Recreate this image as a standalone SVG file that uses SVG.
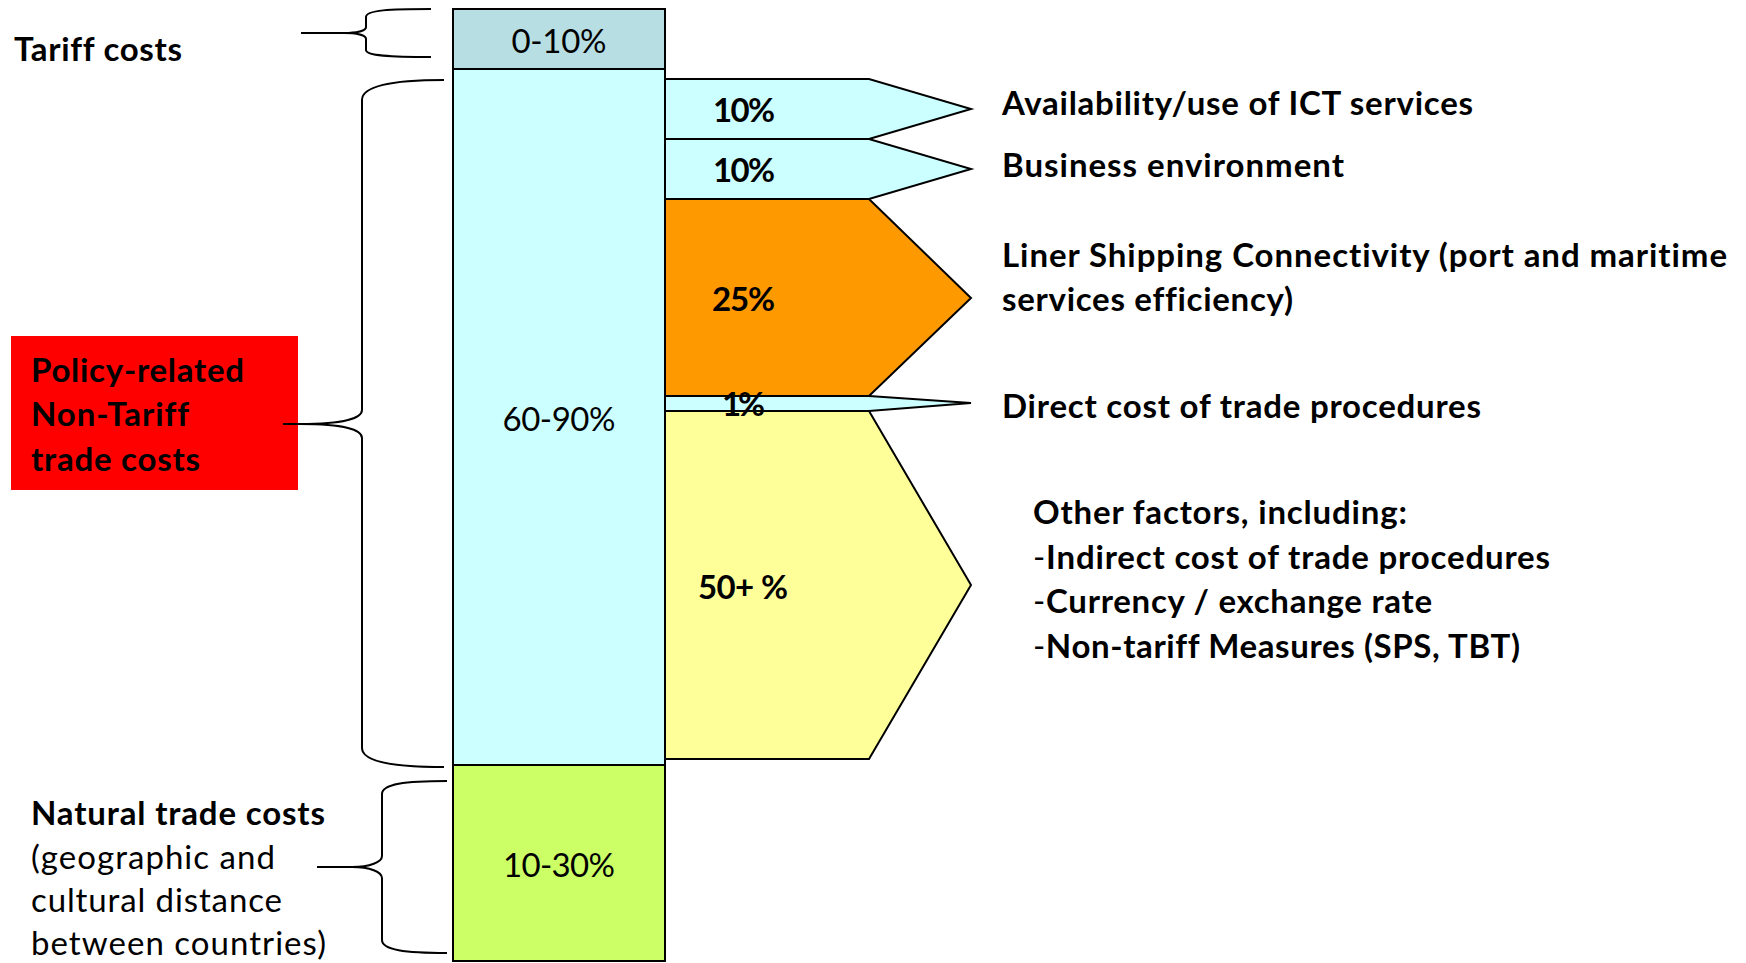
<svg xmlns="http://www.w3.org/2000/svg" width="1746" height="963" viewBox="0 0 1746 963">
<style>
text{font-family:Lato,"Open Sans","Liberation Sans",sans-serif;font-size:33px;fill:#000;font-variant-ligatures:none}
.b{font-weight:bold}
.n{font-weight:normal}
.box{stroke:#000;stroke-width:2}
.arr{stroke:#000;stroke-width:2;stroke-linejoin:miter}
.br{fill:none;stroke:#000;stroke-width:2}
</style>
<rect width="1746" height="963" fill="#fff"/>
<g id="label-policy"><rect x="11" y="336" width="287" height="154" fill="#FF0000"/>
<text class="b" x="31" y="382" textLength="213">Policy-related</text>
<text class="b" x="31" y="426" textLength="158">Non-Tariff</text>
<text class="b" x="31" y="471" textLength="169">trade costs</text></g>
<g id="connectors">
<path class="br" d="M301,33 L344,33 M431,9 C390,9 366,10 366,17 L366,27 C366,31 356,33 344,33 C356,33 366,35 366,39 L366,50 C366,56 390,57 431,57"/>
<path class="br" d="M283,424 L300,424 M444,80 C395,80 362,85 362,100 L362,410 C362,418 345,424 300,424 C345,424 362,430 362,438 L362,748 C362,762 395,767 444,767"/>
<path class="br" d="M317,867 L352,867 M447,781 C405,781 382,784 382,794 L382,856 C382,862 370,867 352,867 C370,867 382,872 382,878 L382,940 C382,950 405,953 447,953"/>
</g>
<g id="tariff-box"><rect class="box" x="453" y="9" width="212" height="60" fill="#B7DEE3"/><text x="559" y="53" text-anchor="middle" textLength="95">0-10%</text></g>
<g id="main-box"><rect class="box" x="453" y="69" width="212" height="696" fill="#CCFFFF"/><text x="559" y="431" text-anchor="middle" textLength="113">60-90%</text></g>
<g id="natural-box"><rect class="box" x="453" y="765" width="212" height="196" fill="#CCFF66"/><text x="559" y="877" text-anchor="middle" textLength="112">10-30%</text></g>
<g id="arrow-ict"><polygon class="arr" points="665,79 869,79 971,109 869,139 665,139" fill="#CCFFFF"/><text class="b" x="713" y="122" textLength="62">10%</text></g>
<g id="arrow-business"><polygon class="arr" points="665,139 869,139 971,169 869,199 665,199" fill="#CCFFFF"/><text class="b" x="713" y="182" textLength="62">10%</text></g>
<g id="arrow-shipping"><polygon class="arr" points="665,199 869,199 971,298 869,396 665,396" fill="#FF9900"/><text class="b" x="712" y="311" textLength="63">25%</text></g>
<g id="arrow-other"><polygon class="arr" points="665,411 869,411 971,585 869,759 665,759" fill="#FFFF99"/><text class="b" x="698" y="599" textLength="90">50+ %</text></g>
<g id="arrow-direct"><polygon class="arr" points="665,396 869,396 971,403 869,411 665,411" fill="#CCFFFF"/><text class="b" x="722" y="416" textLength="43">1%</text></g>
<g id="label-tariff"><text class="b" x="14" y="61" textLength="168">Tariff costs</text></g>
<g id="label-natural">
<text class="b" x="31" y="825" textLength="294">Natural trade costs</text>
<text x="31" y="869" textLength="244">(geographic and</text>
<text x="31" y="912" textLength="251">cultural distance</text>
<text x="31" y="955" textLength="295">between countries)</text></g>
<g id="label-ict"><text class="b" x="1002" y="115" textLength="471">Availability/use of ICT services</text></g>
<g id="label-business"><text class="b" x="1002" y="177" textLength="342">Business environment</text></g>
<g id="label-shipping"><text class="b" x="1002" y="267" textLength="725">Liner Shipping Connectivity (port and maritime</text>
<text class="b" x="1002" y="311" textLength="291">services efficiency)</text></g>
<g id="label-direct"><text class="b" x="1002" y="418" textLength="479">Direct cost of trade procedures</text></g>
<g id="label-other">
<text class="b" x="1033" y="524" textLength="374">Other factors, including:</text>
<text class="b" x="1033" y="569" textLength="517"><tspan class="n">-</tspan>Indirect cost of trade procedures</text>
<text class="b" x="1033" y="613" textLength="399"><tspan class="n">-</tspan>Currency / exchange rate</text>
<text class="b" x="1033" y="658" textLength="487"><tspan class="n">-</tspan>Non-tariff Measures (SPS, TBT)</text></g>
</svg>
